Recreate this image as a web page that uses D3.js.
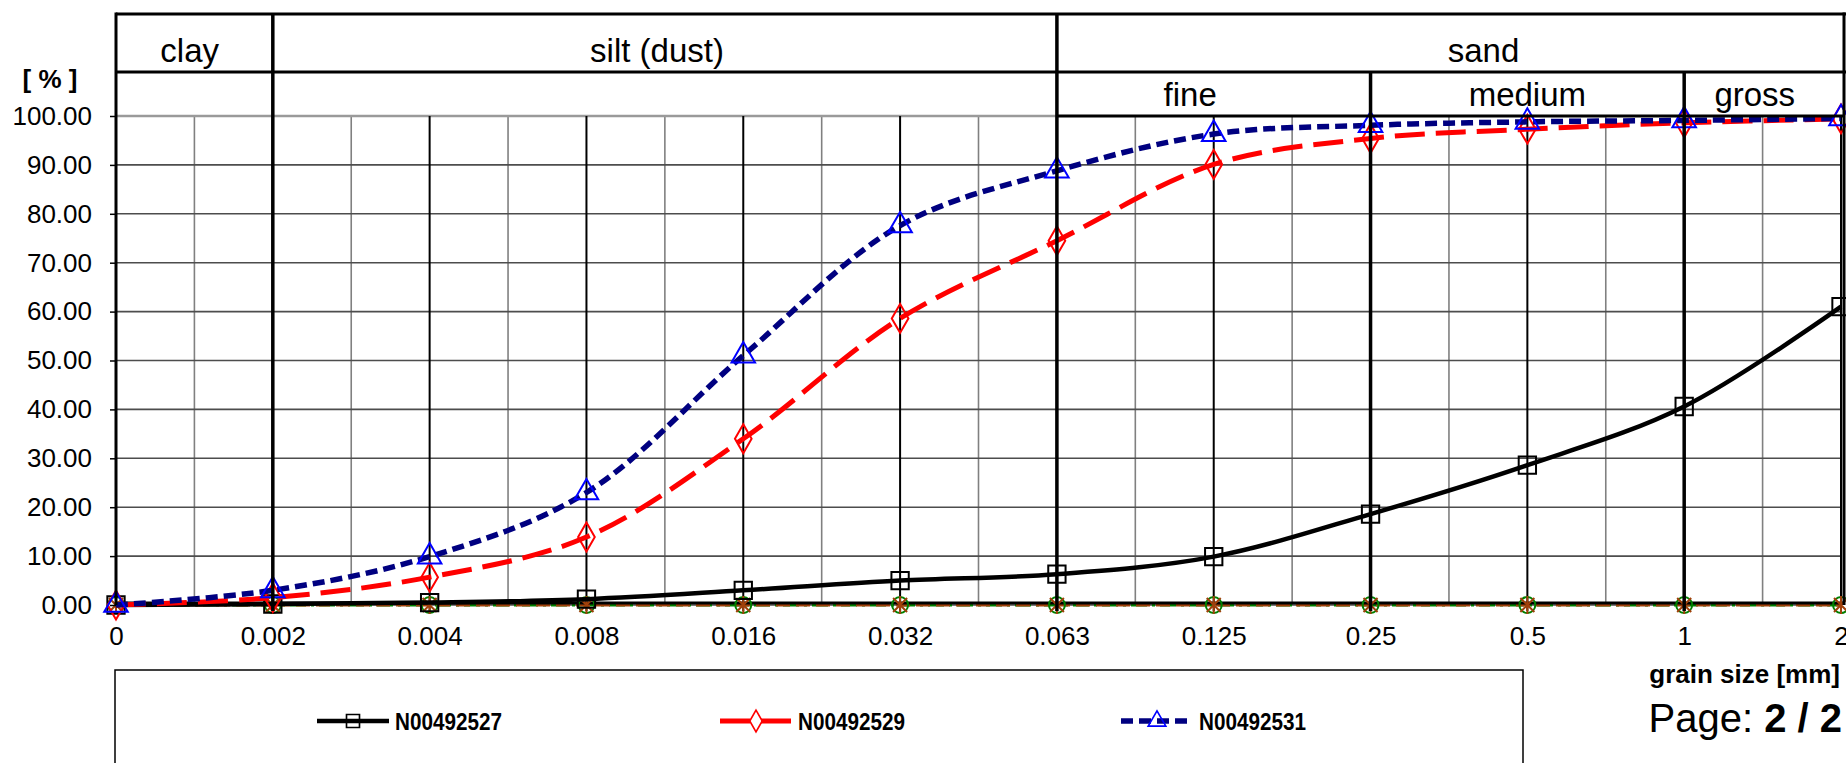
<!DOCTYPE html>
<html>
<head>
<meta charset="utf-8">
<script src="https://cdn.jsdelivr.net/npm/d3@7"></script>
<style>
  body { margin: 0; background: #fff; }
  svg { display: block; font-family: "Liberation Sans", Arial, sans-serif; }
</style>
</head>
<body>
<svg id="grain_chart" width="1846" height="763"></svg>
<script>
// grain size classes (equally spaced on the x axis)
var grain_sizes = ["0", "0.002", "0.004", "0.008", "0.016", "0.032", "0.063", "0.125", "0.25", "0.5", "1", "2"];

// passing [%] per sample
var n00492527 = [0, 0.2, 0.5, 1.2, 3.0, 5.0, 6.3, 9.9, 18.6, 28.6, 40.6, 61.0];
var n00492529 = [0, 1.5, 5.7, 13.9, 34.0, 58.6, 74.5, 90.1, 95.4, 97.3, 98.6, 99.4];
var n00492531 = [0, 3.0, 9.9, 23.0, 51.0, 77.6, 88.8, 96.3, 98.1, 98.8, 99.1, 99.5];
// empty samples, drawn on the zero line
var empty_sample_a = [0, 0, 0, 0, 0, 0, 0, 0, 0, 0, 0, 0];
var empty_sample_b = [0, 0, 0, 0, 0, 0, 0, 0, 0, 0, 0, 0];

var y_ticks = [0, 10, 20, 30, 40, 50, 60, 70, 80, 90, 100];

// header cells: [label, from index, to index, text position (index units)]
var main_classes = [["clay", 0, 1, 0.47], ["silt (dust)", 1, 6, 3.45], ["sand", 6, 12, 8.72]];
var sand_classes = [["fine", 6, 8, 6.85], ["medium", 8, 10, 9.0], ["gross", 10, 12, 10.45]];

var legend_names = ["N00492527", "N00492529", "N00492531"];

function draw_chart(){
    var svg = d3.select("#grain_chart");
    svg.selectAll("*").remove();

    var left = 116, right = 1841, top = 14, head_mid = 72, y0 = 605, y100 = 116;
    var frame_right = 1844;

    var x = d3.scalePoint()
        .domain(grain_sizes)
        .range([left, right]);
    var step = x.step();
    function xi(i){ return left + i * step; }

    var y = d3.scaleLinear()
        .domain([0, 100])
        .range([y0, y100]);

    var g = svg.append("g");

    // minor vertical lines (half way between classes)
    g.selectAll(".minor")
      .data(grain_sizes.slice(0, -1))
      .enter().append("line")
        .attr("x1", function(d, i){ return xi(i + 0.5); })
        .attr("x2", function(d, i){ return xi(i + 0.5); })
        .attr("y1", y(100)).attr("y2", y(0))
        .attr("stroke", "#808080").attr("stroke-width", 1.6);

    // horizontal grid
    g.selectAll(".hgrid")
      .data(y_ticks.slice(0, -1))
      .enter().append("line")
        .attr("x1", left).attr("x2", right)
        .attr("y1", function(d){ return y(d); })
        .attr("y2", function(d){ return y(d); })
        .attr("stroke", "#4d4d4d").attr("stroke-width", 1.6);
    g.append("line")
        .attr("x1", left).attr("x2", xi(6))
        .attr("y1", y(100)).attr("y2", y(100))
        .attr("stroke", "#9a9a9a").attr("stroke-width", 2.5);

    // class lines
    g.selectAll(".major")
      .data(grain_sizes)
      .enter().append("line")
        .attr("x1", function(d){ return x(d); })
        .attr("x2", function(d){ return x(d); })
        .attr("y1", y(100)).attr("y2", y0 + 6)
        .attr("stroke", "#000").attr("stroke-width", 2);

    // header table
    var head = svg.append("g").attr("stroke", "#000").attr("fill", "none");
    head.append("line").attr("x1", left).attr("x2", 1846).attr("y1", top).attr("y2", top).attr("stroke-width", 3);
    head.append("line").attr("x1", left).attr("x2", 1846).attr("y1", head_mid).attr("y2", head_mid).attr("stroke-width", 3);
    head.append("line").attr("x1", xi(6)).attr("x2", frame_right).attr("y1", y(100)).attr("y2", y(100)).attr("stroke-width", 3);
    head.append("line").attr("x1", left).attr("x2", left).attr("y1", top - 1.5).attr("y2", y0).attr("stroke-width", 3);
    head.append("line").attr("x1", frame_right).attr("x2", frame_right).attr("y1", top - 1.5).attr("y2", y0).attr("stroke-width", 3);
    [1, 6].forEach(function(i){
        head.append("line").attr("x1", xi(i)).attr("x2", xi(i)).attr("y1", top).attr("y2", y0 + 6).attr("stroke-width", 3.5);
    });
    [8, 10].forEach(function(i){
        head.append("line").attr("x1", xi(i)).attr("x2", xi(i)).attr("y1", head_mid).attr("y2", y0 + 6).attr("stroke-width", 3.5);
    });

    svg.selectAll(".main_class")
      .data(main_classes)
      .enter().append("text")
        .attr("x", function(d){ return xi(d[3]); })
        .attr("y", 62)
        .attr("text-anchor", "middle")
        .style("font-size", "33px")
        .text(function(d){ return d[0]; });
    svg.selectAll(".sand_class")
      .data(sand_classes)
      .enter().append("text")
        .attr("x", function(d){ return xi(d[3]); })
        .attr("y", 106)
        .attr("text-anchor", "middle")
        .style("font-size", "33px")
        .text(function(d){ return d[0]; });

    // axes
    var y_axis = svg.append("g")
        .attr("transform", "translate(" + left + ",0)")
        .call(d3.axisLeft(y).tickValues(y_ticks).tickFormat(d3.format(".2f")).tickSize(6).tickPadding(18));
    y_axis.select(".domain").remove();
    y_axis.selectAll("line").attr("stroke", "#000").attr("stroke-width", 1.5);
    y_axis.selectAll("text").style("font-size", "26px").style("font-family", "Liberation Sans, Arial, sans-serif").attr("fill", "#000");

    var x_axis = svg.append("g")
        .attr("transform", "translate(0," + y0 + ")")
        .call(d3.axisBottom(x).tickSize(0).tickPadding(22));
    x_axis.select(".domain").remove();
    x_axis.selectAll("text").style("font-size", "26px").style("font-family", "Liberation Sans, Arial, sans-serif").attr("fill", "#000");

    svg.append("text")
        .attr("x", 50).attr("y", 88)
        .attr("text-anchor", "middle")
        .style("font-size", "26px").style("font-weight", "bold")
        .text("[ % ]");
    svg.append("text")
        .attr("x", 1840).attr("y", 683)
        .attr("text-anchor", "end")
        .style("font-size", "26px").style("font-weight", "bold")
        .text("grain size [mm]");
    var page = svg.append("text")
        .attr("x", 1842).attr("y", 732)
        .attr("text-anchor", "end")
        .style("font-size", "40px");
    page.append("tspan").text("Page: ");
    page.append("tspan").style("font-weight", "bold").text("2 / 2");

    // series
    var line = d3.line()
        .x(function(d, i){ return x(grain_sizes[i]); })
        .y(function(d){ return y(d); })
        .curve(d3.curveCatmullRom.alpha(0.5));

    var star = "M-7,-7L7,7M-7,7L7,-7M0,-9V9";

    var series = [
        {values: empty_sample_a, stroke: "#008000", width: 3, dash: "16,5,3,5", mark: d3.symbol(d3.symbolCircle, 200)(), mstroke: "#008000"},
        {values: empty_sample_b, stroke: "#a0400a", width: 3, dash: "14,6", mark: star, mstroke: "#a0400a"}
    ];
    series.forEach(function(s){
        g.append("path").attr("d", line(s.values)).attr("fill", "none")
            .attr("stroke", s.stroke).attr("stroke-width", s.width).attr("stroke-dasharray", s.dash);
    });
    // zero axis line
    g.append("line").attr("x1", left).attr("x2", frame_right).attr("y1", y0 - 2).attr("y2", y0 - 2)
        .attr("stroke", "#000").attr("stroke-width", 3);
    series.forEach(function(s){
        g.selectAll(null).data(s.values).enter().append("path")
            .attr("d", s.mark)
            .attr("transform", function(d, i){ return "translate(" + x(grain_sizes[i]) + "," + y(d) + ")"; })
            .attr("fill", "none").attr("stroke", s.mstroke).attr("stroke-width", 2);
    });

    var samples = [
        {values: n00492527, stroke: "#000", width: 4.5, dash: null, mark: d3.symbol(d3.symbolSquare, 300)(), mstroke: "#000"},
        {values: n00492529, stroke: "#ff0000", width: 5, dash: "30,11", mark: d3.symbol(d3.symbolDiamond, 240)(), mstroke: "#ff0000"},
        {values: n00492531, stroke: "#000080", width: 5.5, dash: "12,6", mark: d3.symbol(d3.symbolTriangle, 240)(), mstroke: "#0000ff"}
    ];
    samples.forEach(function(s){
        g.append("path").attr("d", line(s.values)).attr("fill", "none")
            .attr("stroke", s.stroke).attr("stroke-width", s.width).attr("stroke-dasharray", s.dash);
        g.selectAll(null).data(s.values).enter().append("path")
            .attr("d", s.mark)
            .attr("transform", function(d, i){ return "translate(" + x(grain_sizes[i]) + "," + y(d) + ")"; })
            .attr("fill", "none").attr("stroke", s.mstroke).attr("stroke-width", 2);
    });

    // legend
    var legend = svg.append("g");
    legend.append("rect")
        .attr("x", 115).attr("y", 670).attr("width", 1408).attr("height", 120)
        .attr("fill", "none").attr("stroke", "#000").attr("stroke-width", 1.5);
    var legend_x = [317, 720, 1121];
    samples.forEach(function(s, i){
        var lx = legend_x[i];
        legend.append("line")
            .attr("x1", lx).attr("x2", lx + 72).attr("y1", 721).attr("y2", 721)
            .attr("stroke", s.stroke).attr("stroke-width", s.width)
            .attr("stroke-dasharray", s.dash);
        legend.append("path")
            .attr("d", s.mark)
            .attr("transform", "translate(" + (lx + 36) + ",721) scale(0.75)")
            .attr("fill", "none").attr("stroke", s.mstroke).attr("stroke-width", 2.2);
        // slightly condensed bold label
        legend.append("text")
            .attr("transform", "translate(" + (lx + 78) + ",730) scale(0.9,1)")
            .style("font-size", "23px").style("font-weight", "bold")
            .text(legend_names[i]);
    });
}

draw_chart();
</script>
</body>
</html>
